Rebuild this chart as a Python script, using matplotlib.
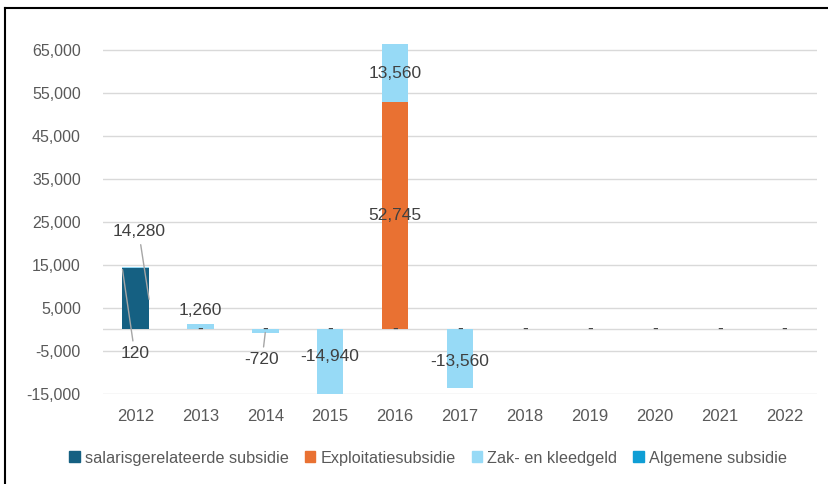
import numpy as np
import matplotlib
matplotlib.use("Agg")
import matplotlib.pyplot as plt
from matplotlib.lines import Line2D

plt.rcParams['font.family'] = ['Liberation Sans', 'DejaVu Sans']

# data
years = ["2012", "2013", "2014", "2015", "2016", "2017", "2018", "2019", "2020", "2021", "2022"]
salaris = [14280, 0, 0, 0, 0, 0, 0, 0, 0, 0, 0]
exploitatie = [0, 0, 0, 0, 52745, 0, 0, 0, 0, 0, 0]
zak_kleedgeld = [120, 1260, -720, -14940, 13560, -13560, 0, 0, 0, 0, 0]
algemeen = [0, 0, 0, 0, 0, 0, 0, 0, 0, 0, 0]

series = [
    ("salarisgerelateerde subsidie", salaris, "#156082"),
    ("Exploitatiesubsidie", exploitatie, "#E97132"),
    ("Zak- en kleedgeld", zak_kleedgeld, "#97DAF6"),
    ("Algemene subsidie", algemeen, "#0F9ED5"),
]
yticks = list(range(-15000, 70000, 10000))

W, H = 829, 484
fig = plt.figure(figsize=(W / 100, H / 100), dpi=100)
ax = fig.add_axes([103 / W, 1 - 394 / H, (817 - 103) / W, (394 - 28) / H])

x = np.arange(len(years))
width = 0.41
pos_base = np.zeros(len(years))
neg_base = np.zeros(len(years))
centers = {}
for name, vals, col in series:
    v = np.array(vals, dtype=float)
    bottom = np.where(v >= 0, pos_base, neg_base)
    ax.bar(x, v, width, bottom=bottom, color=col, label=name, zorder=3)
    centers[name] = bottom + v / 2
    pos_base += np.where(v > 0, v, 0)
    neg_base += np.where(v < 0, v, 0)

ax.set_xlim(-0.5, len(years) - 0.5)
ax.set_ylim(-15000, 70000)
ax.set_yticks(yticks)
ax.set_yticklabels([f"{t:,}" for t in yticks])
ax.set_xticks(x)
ax.set_xticklabels(years)
ax.grid(axis="y", color="#D9D9D9", lw=1, zorder=0)
ax.axhline(0, color="#D9D9D9", lw=1, zorder=1)
for s in ax.spines.values():
    s.set_visible(False)
ax.tick_params(length=0, colors="#595959")
ax.tick_params(axis="y", labelsize=11.5, pad=16)
ax.tick_params(axis="x", labelsize=12, pad=11)

lab_kw = dict(ha="center", va="center", fontsize=12.5, color="#404040", zorder=5)
line_kw = dict(arrowstyle="-", color="#A6A6A6", lw=1, shrinkA=2, shrinkB=0)

def fmt(v):
    return "-" if v == 0 else f"{v:,.0f}"

# zero labels
for i, v in enumerate(salaris):
    if v == 0:
        ax.text(x[i], 0, "-", **lab_kw)

# 2012 labels with leader lines
ax.annotate(fmt(salaris[0]), xy=(0.21, 7000), xytext=(0.05, 22700),
            arrowprops=line_kw, **lab_kw)
ax.annotate(fmt(zak_kleedgeld[0]), xy=(-0.2, 13900), xytext=(-0.01, -5700),
            arrowprops=line_kw, **lab_kw)
# 2013
ax.text(1, 4500, fmt(zak_kleedgeld[1]), **lab_kw)
# 2014
ax.annotate(fmt(zak_kleedgeld[2]), xy=(2.0, -720), xytext=(1.95, -7100),
            arrowprops=line_kw, **lab_kw)
# 2015 - 2017
ax.text(3, -6200, fmt(zak_kleedgeld[3]), **lab_kw)
ax.text(4, centers["Exploitatiesubsidie"][4], fmt(exploitatie[4]), **lab_kw)
ax.text(4, centers["Zak- en kleedgeld"][4], fmt(zak_kleedgeld[4]), **lab_kw)
ax.text(5, -7400, fmt(zak_kleedgeld[5]), **lab_kw)

handles = [plt.Rectangle((0, 0), 1, 1, color=c) for _, _, c in series]
fig.legend(handles, [n for n, _, _ in series], loc="center",
           bbox_to_anchor=(428 / W, 1 - 458 / H), ncol=4, frameon=False,
           fontsize=11.7, labelcolor="#595959", handlelength=0.65, handleheight=0.65,
           handletextpad=0.3, columnspacing=1.0)

# chart border (left and top)
fig.add_artist(Line2D([5 / W, 5 / W], [0, 1 - 8 / H], color="black", lw=1.5))
fig.add_artist(Line2D([5 / W, 1], [1 - 8 / H, 1 - 8 / H], color="black", lw=1.5))

fig.savefig("out.png", dpi=100)
